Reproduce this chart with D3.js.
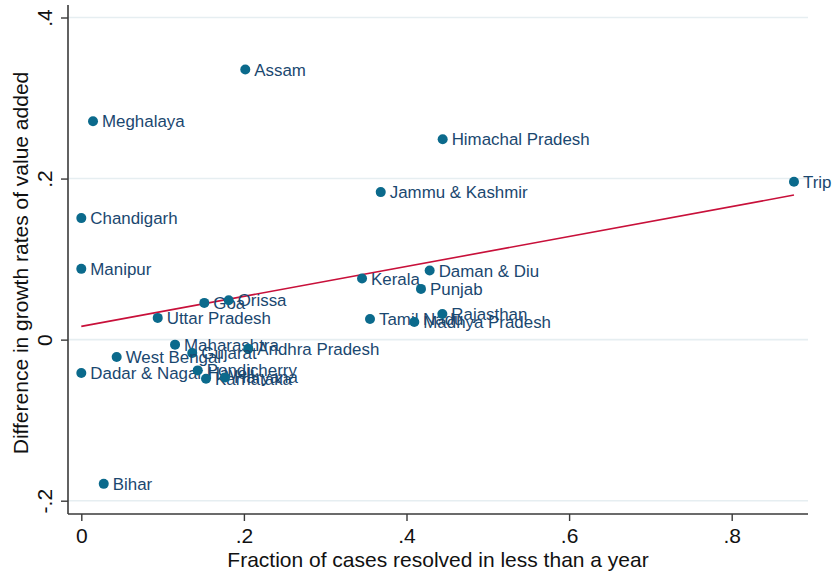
<!DOCTYPE html>
<html>
<head>
<meta charset="utf-8">
<script src="https://cdn.jsdelivr.net/npm/d3@7"></script>
<style>
  html, body { margin: 0; padding: 0; background: #fff; }
  svg { display: block; font-family: "Liberation Sans", Arial, Helvetica, sans-serif; }
</style>
</head>
<body>
<svg id="chart" width="832" height="573"></svg>
<script>
// ---- Data ----
const states = ["Assam","Meghalaya","Himachal Pradesh","Tripura","Jammu & Kashmir","Chandigarh","Manipur","Kerala","Daman & Diu","Punjab","Goa","Orissa","Uttar Pradesh","Tamil Nadu","Rajasthan","Madhya Pradesh","Maharashtra","Andhra Pradesh","Gujarat","West Bengal","Dadar & Nagar Haveli","Pondicherry","Karnataka","Haryana","Bihar"];
const fractionResolved = [0.2017,0.0144,0.4445,0.8766,0.3683,0.0000,0.0000,0.3453,0.4285,0.4178,0.1513,0.1813,0.0940,0.3551,0.4441,0.4096,0.1153,0.2054,0.1365,0.0435,0.0000,0.1432,0.1534,0.1768,0.0276];
const growthDiff = [0.3354,0.2711,0.2488,0.1961,0.1832,0.1509,0.0879,0.0759,0.0858,0.0630,0.0456,0.0489,0.0270,0.0257,0.0319,0.0220,-0.0062,-0.0112,-0.0165,-0.0215,-0.0415,-0.0382,-0.0485,-0.0469,-0.1791];
const fitX = [0, 0.8766];
const fitY = [0.0165, 0.1795];
const xTicks = [0, 0.2, 0.4, 0.6, 0.8];
const xTickLabels = ["0", ".2", ".4", ".6", ".8"];
const yTicks = [-0.2, 0, 0.2, 0.4];
const yTickLabels = ["-.2", "0", ".2", ".4"];
const xTitle = "Fraction of cases resolved in less than a year";
const yTitle = "Difference in growth rates of value added";

// ---- Layout ----
const svg = d3.select("#chart");
const plot = { left: 68, right: 808, top: 5, bottom: 514 };
const x = d3.scaleLinear().domain([0, 0.8]).range([81.3, 731.7]);
const y = d3.scaleLinear().domain([-0.2, 0.4]).range([500.7, 17.5]);

const axisColor = "#3a3a3a";
const gridColor = "#e6eef1";
const markerColor = "#0b6a8c";
const labelColor = "#1a476f";
const fitColor = "#c8103a";

// gridlines
svg.append("g").selectAll("line").data(yTicks).join("line")
  .attr("x1", plot.left).attr("x2", plot.right)
  .attr("y1", d => y(d)).attr("y2", d => y(d))
  .attr("stroke", gridColor).attr("stroke-width", 1.6);

// fit line
const lineGen = d3.line().x(d => x(d[0])).y(d => y(d[1]));
svg.append("path")
  .datum(fitX.map((v, i) => [v, fitY[i]]))
  .attr("d", lineGen)
  .attr("fill", "none").attr("stroke", fitColor).attr("stroke-width", 1.6);

// points data
const pts = states.map((s, i) => ({ name: s, fx: fractionResolved[i], gy: growthDiff[i] }));

// markers and labels
const g = svg.append("g");
pts.forEach(p => {
  g.append("circle")
    .attr("cx", x(p.fx)).attr("cy", y(p.gy)).attr("r", 5)
    .attr("fill", markerColor);
  g.append("text")
    .attr("x", x(p.fx) + 9).attr("y", y(p.gy)).attr("dy", "0.36em")
    .attr("font-size", 16.9).attr("fill", labelColor)
    .text(p.name);
});

// x axis
const xAxis = d3.axisBottom(x).tickValues(xTicks)
  .tickFormat((d, i) => xTickLabels[i]).tickSize(7).tickPadding(6).tickSizeOuter(0);
const gx = svg.append("g").attr("transform", `translate(0,${plot.bottom})`).call(xAxis);
gx.select(".domain").remove();
gx.append("line").attr("x1", plot.left).attr("x2", plot.right).attr("y1", 0).attr("y2", 0)
  .attr("stroke", axisColor).attr("stroke-width", 1.6);
gx.selectAll(".tick line").attr("stroke", axisColor).attr("stroke-width", 1.4);
gx.selectAll(".tick text").attr("font-size", 21).attr("fill", "#111")
  .attr("font-family", "Liberation Sans, Arial, sans-serif")
  .attr("dy", null).attr("y", 29).attr("dominant-baseline", "auto");

// y axis
const yAxis = d3.axisLeft(y).tickValues(yTicks)
  .tickFormat((d, i) => yTickLabels[i]).tickSize(7).tickSizeOuter(0);
const gy = svg.append("g").attr("transform", `translate(${plot.left},0)`).call(yAxis);
gy.select(".domain").remove();
gy.append("line").attr("x1", 0).attr("x2", 0).attr("y1", plot.top).attr("y2", plot.bottom)
  .attr("stroke", axisColor).attr("stroke-width", 1.6);
gy.selectAll(".tick line").attr("stroke", axisColor).attr("stroke-width", 1.4);
gy.selectAll(".tick text")
  .attr("font-size", 21).attr("fill", "#111")
  .attr("font-family", "Liberation Sans, Arial, sans-serif")
  .attr("x", null).attr("dy", null)
  .attr("text-anchor", "middle")
  .attr("transform", "translate(-16,0) rotate(-90)")
  .attr("y", 0);

// titles
svg.append("text")
  .attr("x", (plot.left + plot.right) / 2).attr("y", 566.5)
  .attr("text-anchor", "middle").attr("font-size", 21).attr("fill", "#111")
  .text(xTitle);
svg.append("text")
  .attr("transform", `translate(27.5,${263}) rotate(-90)`)
  .attr("text-anchor", "middle").attr("font-size", 21).attr("fill", "#111")
  .text(yTitle);
</script>
</body>
</html>
